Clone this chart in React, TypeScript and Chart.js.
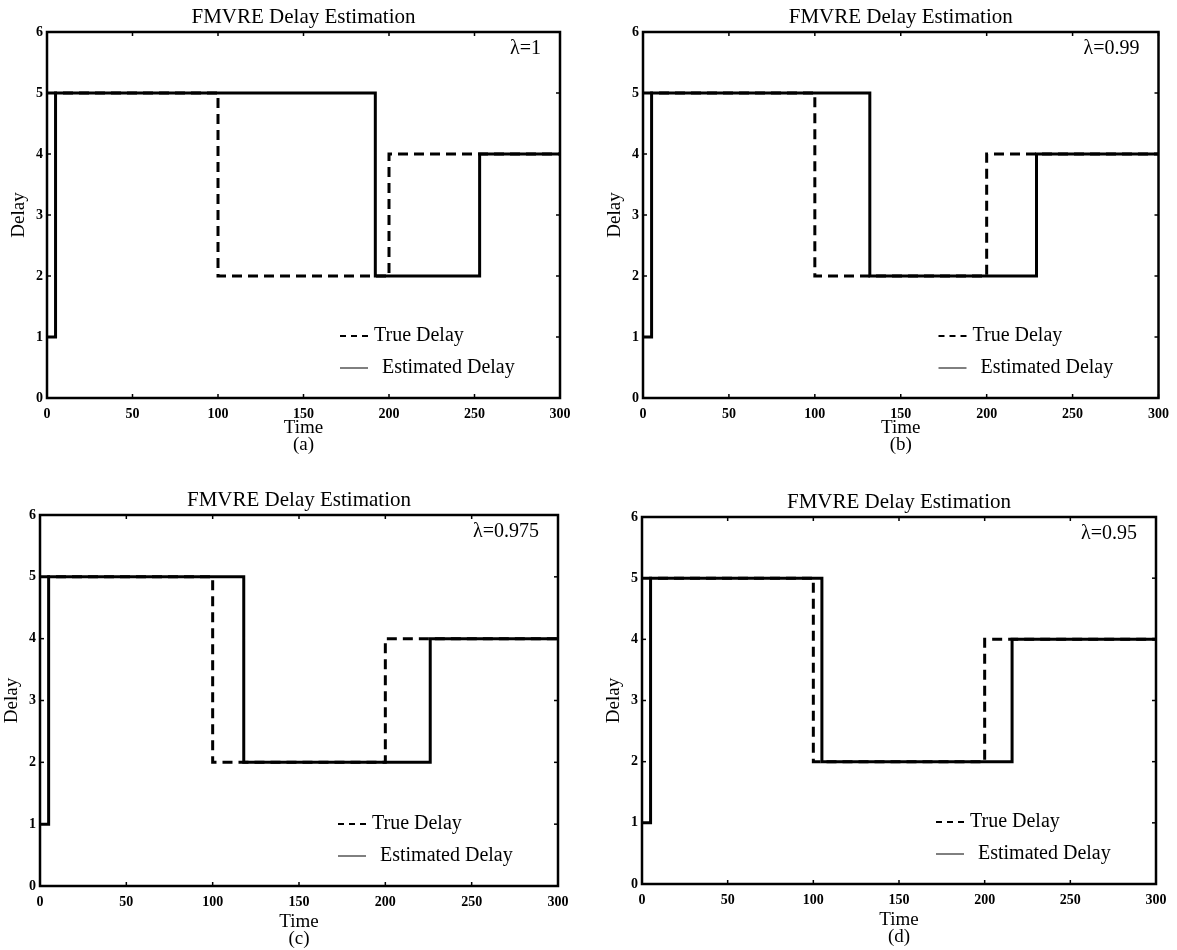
import React, { useEffect, useRef } from 'react';
import { Chart, registerables } from 'chart.js';

Chart.register(...registerables);

// ---------- data ----------
const xTicks = [0, 50, 100, 150, 200, 250, 300];
const yTicks = [0, 1, 2, 3, 4, 5, 6];

const trueTimes = [0, 100, 200, 300];
const trueDelay = [5, 2, 4, 4];

const estTimesA = [0, 5, 192, 253, 300];
const estDelayA = [1, 5, 2, 4, 4];
const estTimesB = [0, 5, 132, 229, 300];
const estDelayB = [1, 5, 2, 4, 4];
const estTimesC = [0, 5, 118, 226, 300];
const estDelayC = [1, 5, 2, 4, 4];
const estTimesD = [0, 5, 105, 216, 300];
const estDelayD = [1, 5, 2, 4, 4];

const lambdaLabels = ['λ=1', 'λ=0.99', 'λ=0.975', 'λ=0.95'];
const panelLabels = ['(a)', '(b)', '(c)', '(d)'];
const chartTitle = 'FMVRE Delay Estimation';
const xTitle = 'Time';
const yTitle = 'Delay';
const legendTrue = 'True Delay';
const legendEst = 'Estimated Delay';

// ---------- layout ----------
const SERIF = '"Liberation Serif", "Times New Roman", Times, serif';

type Box = { l: number; t: number; r: number; b: number };
type Panel = {
  estT: number[];
  estY: number[];
  lambda: string;
  label: string;
  left: number;
  top: number;
  w: number;
  h: number;
  plot: Box;
  timeOff: number;
};

const panels: Panel[] = [
  { estT: estTimesA, estY: estDelayA, lambda: lambdaLabels[0], label: panelLabels[0], left: 0, top: 0, w: 585, h: 475, plot: { l: 47, t: 32, r: 560, b: 398 }, timeOff: 35 },
  { estT: estTimesB, estY: estDelayB, lambda: lambdaLabels[1], label: panelLabels[1], left: 590, top: 0, w: 587, h: 475, plot: { l: 53, t: 32, r: 569, b: 398 }, timeOff: 35 },
  { estT: estTimesC, estY: estDelayC, lambda: lambdaLabels[2], label: panelLabels[2], left: 0, top: 475, w: 585, h: 475, plot: { l: 40, t: 40, r: 558, b: 411 }, timeOff: 41 },
  { estT: estTimesD, estY: estDelayD, lambda: lambdaLabels[3], label: panelLabels[3], left: 590, top: 475, w: 587, h: 475, plot: { l: 52, t: 42, r: 566, b: 409 }, timeOff: 41 },
];

function line(ctx: CanvasRenderingContext2D, x1: number, y1: number, x2: number, y2: number) {
  ctx.beginPath();
  ctx.moveTo(x1, y1);
  ctx.lineTo(x2, y2);
  ctx.stroke();
}

function makeDecor(p: Panel) {
  return {
    id: 'decor',
    afterDatasetsDraw(chart: any) {
      const ctx: CanvasRenderingContext2D = chart.ctx;
      const { left, top, right, bottom } = chart.chartArea;
      const xs = chart.scales.x;
      const ys = chart.scales.y;
      ctx.save();
      ctx.strokeStyle = '#000';
      ctx.fillStyle = '#000';
      ctx.setLineDash([]);
      ctx.lineWidth = 2.5;
      ctx.strokeRect(left, top, right - left, bottom - top);
      ctx.lineWidth = 1.5;
      for (const v of xTicks) {
        const px = xs.getPixelForValue(v);
        line(ctx, px, bottom, px, bottom - 4);
        line(ctx, px, top, px, top + 4);
      }
      for (const v of yTicks) {
        const py = ys.getPixelForValue(v);
        line(ctx, left, py, left + 4, py);
        line(ctx, right, py, right - 4, py);
      }
      const cx = (left + right) / 2;
      // title
      ctx.font = `21px ${SERIF}`;
      ctx.textAlign = 'center';
      ctx.textBaseline = 'middle';
      ctx.fillText(chartTitle, cx, top - 15);
      // x title + panel label
      ctx.font = `19px ${SERIF}`;
      ctx.textBaseline = 'alphabetic';
      ctx.fillText(xTitle, cx, bottom + p.timeOff);
      ctx.fillText(p.label, cx, bottom + p.timeOff + 17);
      // y title
      ctx.save();
      ctx.translate(left - 28, (top + bottom) / 2);
      ctx.rotate(-Math.PI / 2);
      ctx.textBaseline = 'middle';
      ctx.fillText(yTitle, 0, 0);
      ctx.restore();
      // lambda
      ctx.font = `20px ${SERIF}`;
      ctx.textAlign = 'right';
      ctx.textBaseline = 'middle';
      ctx.fillText(p.lambda, right - 19, top + 17);
      // legend
      const sx = right - 220;
      const y1 = bottom - 62;
      const y2 = bottom - 30;
      ctx.lineWidth = 2;
      ctx.setLineDash([6, 5]);
      line(ctx, sx, y1, sx + 28, y1);
      ctx.setLineDash([]);
      ctx.lineWidth = 1;
      line(ctx, sx, y2, sx + 28, y2);
      ctx.textAlign = 'left';
      ctx.fillText(legendTrue, sx + 34, y1);
      ctx.fillText(legendEst, sx + 42, y2);
      ctx.restore();
    },
  };
}

function PanelChart({ p }: { p: Panel }) {
  const ref = useRef<HTMLCanvasElement | null>(null);
  useEffect(() => {
    if (!ref.current) return;
    const chart = new Chart(ref.current, {
      type: 'line',
      data: {
        datasets: [
          {
            label: legendTrue,
            data: trueTimes.map((t, i) => ({ x: t, y: trueDelay[i] })),
            borderColor: '#000',
            borderWidth: 3,
            borderDash: [10, 6],
            pointRadius: 0,
            stepped: true,
            fill: false,
          },
          {
            label: legendEst,
            data: p.estT.map((t, i) => ({ x: t, y: p.estY[i] })),
            borderColor: '#000',
            borderWidth: 3,
            pointRadius: 0,
            stepped: true,
            fill: false,
          },
        ],
      },
      options: {
        animation: false,
        responsive: false,
        devicePixelRatio: 1,
        layout: { padding: { left: 0, top: p.plot.t, right: p.w - p.plot.r, bottom: 0 } },
        plugins: { legend: { display: false }, title: { display: false }, tooltip: { enabled: false } },
        scales: {
          x: {
            type: 'linear',
            min: 0,
            max: 300,
            grid: { display: false, drawTicks: false },
            border: { display: false },
            ticks: {
              stepSize: 50,
              autoSkip: false,
              maxRotation: 0,
              padding: 8,
              color: '#000',
              font: { family: SERIF, size: 14, weight: 'bold' },
            },
            afterFit: (s: any) => {
              s.height = p.h - p.plot.b;
            },
          },
          y: {
            type: 'linear',
            min: 0,
            max: 6,
            grid: { display: false, drawTicks: false },
            border: { display: false },
            ticks: {
              stepSize: 1,
              autoSkip: false,
              padding: 4,
              color: '#000',
              font: { family: SERIF, size: 14, weight: 'bold' },
            },
            afterFit: (s: any) => {
              s.width = p.plot.l;
            },
          },
        },
      } as any,
      plugins: [makeDecor(p)],
    });
    return () => chart.destroy();
  }, [p]);
  return (
    <canvas
      ref={ref}
      width={p.w}
      height={p.h}
      style={{ position: 'absolute', left: p.left, top: p.top, width: p.w, height: p.h, display: 'block' }}
    />
  );
}

export default function App() {
  return (
    <div style={{ position: 'absolute', left: 0, top: 0, width: 1177, height: 950, background: '#fff' }}>
      {panels.map((p, i) => (
        <PanelChart key={i} p={p} />
      ))}
    </div>
  );
}
